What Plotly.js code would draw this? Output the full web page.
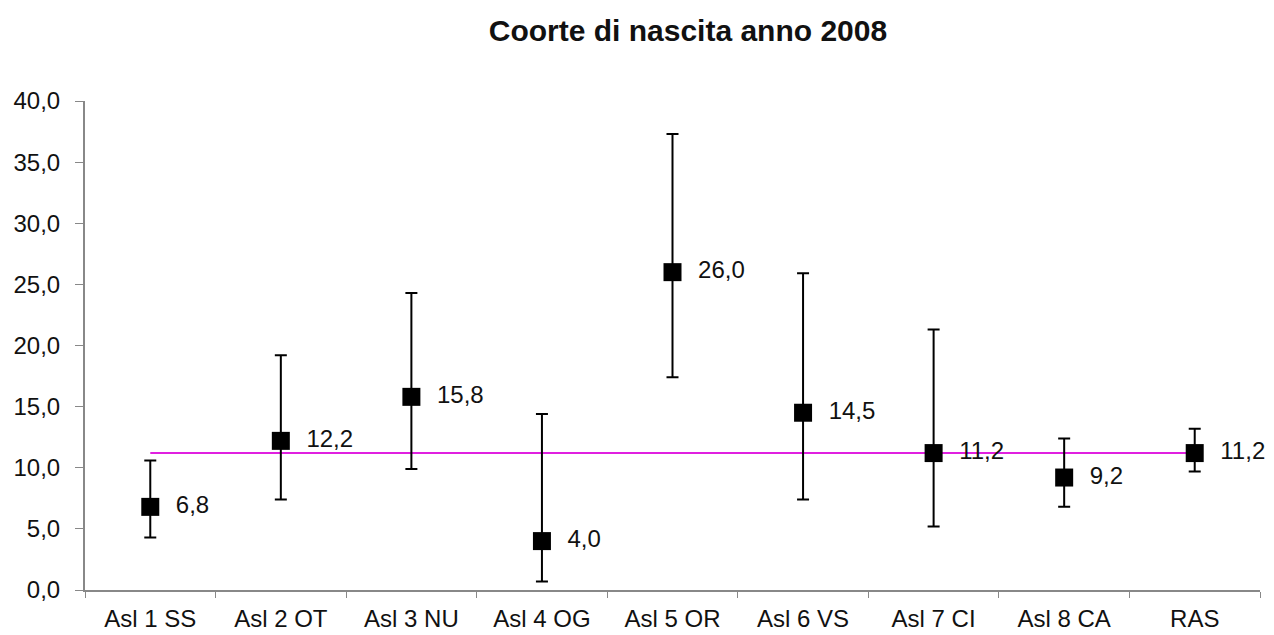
<!DOCTYPE html>
<html>
<head>
<meta charset="utf-8">
<script src="https://cdn.plot.ly/plotly-3.0.1.min.js"></script>
<style>html,body{margin:0;padding:0;background:#fff;}#chart{width:1274px;height:635px;}</style>
</head>
<body>
<div id="chart"></div>
<script>
const categories = ["Asl 1 SS", "Asl 2 OT", "Asl 3 NU", "Asl 4 OG", "Asl 5 OR", "Asl 6 VS", "Asl 7 CI", "Asl 8 CA", "RAS"];
const values = [6.8, 12.2, 15.8, 4.0, 26.0, 14.5, 11.2, 9.2, 11.2];
const upper = [10.6, 19.2, 24.3, 14.4, 37.3, 25.9, 21.3, 12.4, 13.2];
const lower = [4.3, 7.4, 9.9, 0.7, 17.4, 7.4, 5.2, 6.8, 9.7];
const regionalValue = 11.2;
const labels = values.map(v => "  " + v.toFixed(1).replace(".", ","));

const refLine = {
  x: categories,
  y: categories.map(() => regionalValue),
  type: "scatter",
  mode: "lines",
  line: {color: "#e020e0", width: 2},
  hoverinfo: "skip",
  showlegend: false
};

const points = {
  x: categories,
  y: values,
  type: "scatter",
  mode: "markers+text",
  marker: {symbol: "square", size: 18, color: "#000"},
  text: labels,
  textposition: "middle right",
  textfont: {family: "Liberation Sans, Arial, sans-serif", size: 24, color: "#111"},
  error_y: {
    type: "data",
    symmetric: false,
    array: upper.map((u, i) => u - values[i]),
    arrayminus: lower.map((l, i) => values[i] - l),
    color: "#000",
    thickness: 2,
    width: 6
  },
  cliponaxis: false,
  showlegend: false
};

const layout = {
  width: 1274,
  height: 635,
  margin: {l: 85, r: 14, t: 101, b: 45},
  paper_bgcolor: "#fff",
  plot_bgcolor: "#fff",
  separators: ",.",
  font: {family: "Liberation Sans, Arial, sans-serif", size: 24, color: "#111"},
  title: {
    text: "<b>Coorte di nascita anno 2008</b>",
    font: {family: "Liberation Sans, Arial, sans-serif", size: 30, color: "#111"},
    x: 0.54, xanchor: "center",
    y: 1 - 30 / 635, yref: "container", yanchor: "middle"
  },
  xaxis: {
    type: "category",
    range: [-0.5, 8.5],
    showgrid: false,
    showline: true,
    linecolor: "#888",
    linewidth: 2,
    ticks: "outside",
    tickson: "boundaries",
    ticklen: 6,
    tickcolor: "#888",
    ticklabelstandoff: 6,
    tickfont: {size: 24, color: "#111"},
    zeroline: false
  },
  yaxis: {
    range: [0, 40],
    tickvals: [0, 5, 10, 15, 20, 25, 30, 35, 40],
    tickformat: ".1f",
    showgrid: false,
    showline: true,
    linecolor: "#888",
    linewidth: 2,
    ticks: "outside",
    ticklen: 8,
    tickcolor: "#888",
    ticklabelstandoff: 10,
    tickfont: {size: 24, color: "#111"},
    zeroline: false
  }
};

Plotly.newPlot("chart", [refLine, points], layout, {staticPlot: true});
</script>
</body>
</html>
